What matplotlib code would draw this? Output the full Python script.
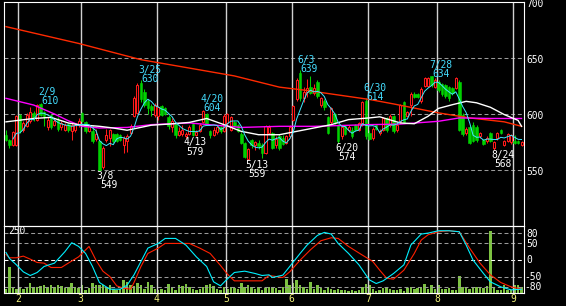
import numpy as np
import pandas as pd
import matplotlib
matplotlib.use("Agg")
import matplotlib.pyplot as plt

# ---------------- data ----------------
holidays = ["2022-02-11", "2022-02-23", "2022-03-21", "2022-04-29",
            "2022-05-03", "2022-05-04", "2022-05-05", "2022-07-18", "2022-08-11"]
dates = pd.bdate_range("2022-01-26", "2022-09-05")
dates = dates[~dates.isin(pd.to_datetime(holidays))]

opens = [581, 577, 572, 572, 599, 586, 589, 594, 601, 595,
         609, 602, 588, 599, 590, 595, 588, 586, 591, 585,
         586, 590, 601, 593, 585, 585, 578, 576, 553, 577,
         579, 582, 582, 581, 572, 576, 583, 598, 601, 628,
         620, 612, 607, 599, 598, 607, 605, 597, 588, 591,
         581, 582, 580, 582, 591, 581, 585, 593, 600, 585,
         581, 584, 588, 585, 592, 586, 593, 590, 582, 574,
         560, 577, 572, 574, 572, 565, 583, 583, 572, 580,
         579, 574, 580, 595, 613, 637, 614, 620, 624, 619,
         629, 608, 612, 597, 593, 600, 590, 580, 589, 586,
         586, 590, 586, 590, 612, 583, 579, 590, 583, 586,
         596, 590, 598, 586, 593, 611, 598, 608, 618, 618,
         612, 625, 625, 634, 624, 629, 627, 626, 624, 623,
         623, 629, 599, 583, 588, 590, 588, 580, 577, 576,
         583, 570, 579, 586, 572, 576, 575, 576, 576, 572]
highs = [586, 578, 585, 599, 600, 594, 601, 606, 603, 609,
         610, 603, 597, 600, 596, 597, 594, 592, 592, 592,
         592, 596, 602, 594, 590, 590, 587, 577, 571, 587,
         587, 583, 583, 582, 580, 582, 591, 616, 628, 630,
         622, 613, 609, 610, 607, 608, 606, 599, 596, 592,
         588, 590, 584, 590, 592, 586, 592, 604, 601, 586,
         588, 589, 589, 600, 601, 598, 594, 591, 584, 575,
         570, 578, 576, 577, 574, 590, 590, 584, 580, 582,
         581, 581, 590, 608, 632, 639, 624, 631, 634, 627,
         630, 615, 613, 598, 606, 601, 591, 590, 590, 590,
         588, 591, 593, 612, 614, 586, 588, 591, 587, 597,
         597, 600, 599, 592, 609, 612, 603, 620, 620, 619,
         624, 633, 633, 634, 632, 630, 628, 627, 625, 624,
         633, 630, 601, 588, 589, 593, 590, 584, 578, 580,
         584, 576, 584, 587, 577, 583, 582, 581, 577, 576]
lows = [576, 570, 571, 571, 583, 584, 588, 592, 594, 594,
        598, 589, 586, 587, 589, 585, 586, 585, 584, 577,
        584, 588, 593, 583, 584, 574, 576, 549, 551, 575,
        571, 574, 575, 576, 565, 566, 582, 597, 600, 611,
        606, 600, 598, 597, 595, 598, 599, 587, 584, 579,
        580, 580, 579, 581, 580, 580, 584, 592, 590, 579,
        580, 582, 583, 584, 589, 585, 588, 584, 573, 561,
        559, 570, 568, 569, 561, 564, 582, 569, 570, 568,
        572, 573, 579, 594, 612, 612, 611, 615, 618, 617,
        614, 606, 604, 582, 591, 591, 574, 578, 581, 584,
        579, 585, 585, 589, 578, 577, 577, 586, 581, 585,
        584, 588, 583, 584, 592, 592, 597, 598, 614, 614,
        610, 624, 624, 624, 623, 620, 616, 614, 612, 617,
        622, 585, 580, 581, 573, 575, 575, 579, 572, 574,
        575, 568, 577, 582, 571, 575, 573, 573, 573, 571]
closes = [577, 572, 584, 598, 585, 592, 599, 602, 596, 608,
          599, 598, 595, 588, 594, 587, 592, 590, 586, 590,
          590, 594, 594, 585, 589, 576, 582, 550, 570, 581,
          586, 576, 576, 577, 579, 580, 589, 614, 626, 613,
          608, 605, 604, 608, 606, 599, 600, 589, 594, 581,
          585, 586, 582, 588, 581, 584, 590, 603, 591, 581,
          586, 588, 585, 598, 600, 597, 589, 585, 574, 562,
          569, 572, 575, 571, 565, 589, 588, 570, 578, 570,
          573, 580, 588, 607, 630, 614, 620, 623, 619, 623,
          616, 614, 606, 583, 605, 593, 576, 588, 582, 588,
          580, 586, 592, 611, 580, 578, 587, 587, 585, 596,
          586, 598, 585, 590, 608, 593, 602, 618, 615, 615,
          622, 632, 632, 626, 630, 621, 618, 616, 614, 619,
          632, 586, 582, 587, 574, 576, 577, 583, 573, 579,
          576, 575, 583, 583, 576, 582, 581, 574, 574, 575]
volume = [15, 105, 24, 17, 20, 17, 20, 40, 20, 24,
          27, 32, 24, 32, 24, 32, 28, 21, 24, 42,
          24, 20, 34, 13, 20, 42, 32, 34, 32, 20,
          32, 17, 13, 17, 52, 44, 34, 28, 40, 32,
          17, 46, 32, 17, 12, 17, 12, 38, 24, 13,
          34, 28, 38, 24, 17, 12, 17, 24, 32, 38,
          28, 17, 13, 24, 17, 24, 20, 17, 42, 24,
          32, 24, 15, 24, 12, 20, 24, 24, 20, 13,
          24, 58, 34, 42, 54, 34, 24, 15, 44, 17,
          32, 20, 13, 24, 17, 12, 17, 13, 12, 9,
          12, 8, 12, 24, 38, 34, 17, 8, 13, 21,
          24, 17, 13, 13, 17, 9, 20, 24, 15, 20,
          24, 36, 17, 32, 17, 32, 17, 17, 21, 13,
          13, 68, 24, 20, 15, 20, 24, 24, 20, 28,
          250, 24, 13, 13, 32, 12, 12, 34, 34, 24]

# long / mid / 25-day moving averages (day index, value)
ma_long_day = [0, 21, 39, 53, 66, 79, 87, 105, 112, 125, 134, 144, 149]
ma_long_val = [678, 663, 648.5, 641, 634, 624, 621, 613, 609, 601, 596.5, 593, 589]
ma_mid_day = [0, 8, 14, 18, 22, 27, 35, 42, 53, 68, 79, 89, 105, 114, 125, 131, 140, 149]
ma_mid_val = [614, 608, 600, 594, 589, 587.5, 588, 590.5, 592, 588, 589, 589, 590.5,
              591, 593.5, 596.5, 596, 596]
ma25_day = [0, 8, 13, 18, 21, 27, 31, 35, 42, 47, 53, 58, 63, 68, 73, 79, 84, 89, 94,
            99, 105, 108, 114, 118, 122, 125, 129, 133, 136, 140, 144, 148, 149]
ma25_val = [593, 596, 597, 592, 590.5, 589, 587.5, 585.5, 590, 591, 592.5, 596, 590.5,
            584.5, 581.5, 581.5, 584.5, 587.5, 590.5, 595, 596.5, 597.5, 592, 591.3,
            598, 605, 608.3, 611.3, 610, 606, 599.5, 594.3, 589]

# oscillator (RCI-like) lines in lower panel
rci_s_day = [0, 1, 3, 5, 7, 9, 11, 14, 17, 19, 21, 23, 25, 27, 30, 33, 35, 37, 39, 41,
             44, 46, 49, 52, 55, 58, 60, 62, 64, 66, 69, 72, 74, 76, 77, 80, 82, 85, 87,
             90, 92, 94, 96, 99, 102, 105, 107, 109, 112, 115, 117, 120, 122, 125, 128,
             131, 133, 135, 138, 140, 143, 146, 149]
rci_s_val = [22, 4, -15, -36, -47, -38, -20, -10, 24, 51, 40, 19, -20, -68, -88, -88, -76,
             -45, -5, 35, 49, 64, 64, 44, 9, -20, -66, -78, -57, -38, -34, -41, -47, -45,
             -53, -46, -20, 19, 44, 73, 82, 77, 49, 19, -15, -60, -71, -63, -41, -15, 44,
             77, 80, 87, 87, 84, 44, -1, -41, -66, -81, -90, -88]
rci_l_day = [0, 1, 3, 5, 7, 9, 11, 13, 16, 18, 21, 24, 26, 28, 30, 32, 34, 36, 37, 39,
             41, 44, 46, 50, 53, 56, 59, 62, 64, 66, 74, 76, 80, 82, 85, 88, 91, 94, 96,
             99, 103, 106, 108, 110, 112, 115, 118, 120, 122, 125, 128, 131, 134, 137,
             140, 143, 146, 149]
rci_l_val = [16, 6, 6, 11, 2, -8, -10, -23, -23, -10, 9, 40, -1, -34, -50, -78, -85, -88,
             -68, -20, 19, 35, 49, 49, 49, 35, 19, -17, -43, -63, -63, -47, -53, -36, -1,
             30, 57, 66, 64, 40, 14, -5, -31, -55, -58, -31, 19, 59, 75, 84, 87, 84, 35,
             -10, -45, -68, -81, -88]

# marked highs / lows
mark_day = [10, 27, 39, 52, 57, 70, 85, 96, 104, 123, 141]
mark_price = [610, 549, 630, 579, 604, 559, 639, 574, 614, 634, 568]
mark_high = [True, False, True, False, True, False, True, False, True, True, False]

price_ticks = [700, 650, 600, 550]
osc_ticks = [80, 50, 0, -50, -80]
vol_label = 250

# ---------------- style ----------------
RED = "#ff1a1a"
GREEN = "#00d000"
LONG_RED = "#ff2a00"
MAGENTA = "#ff00ff"
CYAN = "#40e8ff"
LBL_CYAN = "#44ddff"
VOL = "#7dc242"
GRID = "#9a9a9a"
VLINE = "#d0d0d0"
YELLOW = "#f2f27a"
FONT = dict(family="DejaVu Sans Mono", fontsize=6.9)
DASH = (0, (3.8, 2.6))

W, H = 566, 306
fig = plt.figure(figsize=(W / 100, H / 100), dpi=100, facecolor="black")
ax = fig.add_axes([4 / W, (H - 226) / H, 520 / W, 224 / H])
ax2 = fig.add_axes([4 / W, (H - 293) / H, 520 / W, 67 / H], sharex=ax)
axv = ax2.twinx()
axv.set_zorder(0)
ax2.set_zorder(1)
ax2.patch.set_visible(False)
axv.patch.set_facecolor("black")
ax.set_facecolor("black")

n = len(closes)
idx = np.arange(n)
o = np.array(opens, float)
h = np.array(highs, float)
l = np.array(lows, float)
c = np.array(closes, float)
up = c >= o

ax.set_xlim(-0.578, 149.71)
ax.set_ylim(500, 700)
ax2.set_ylim(-99.4, 101.2)
axv.set_ylim(0, 268)

# grid
month_start = [i for i in range(1, n) if dates[i].month != dates[i - 1].month]
for m in month_start:
    for a in (ax, ax2):
        ln = a.axvline(m - 0.43, color=VLINE, lw=1.0, zorder=1.5)
        ln.set_snap(True)
    ax2.annotate(str(dates[m].month), xy=(m - 0.43, 0), xycoords=("data", "axes fraction"),
                 xytext=(0, -9), textcoords="offset pixels", ha="center", va="baseline",
                 color=YELLOW, annotation_clip=False, **FONT)
for v in price_ticks[1:]:
    ax.axhline(v, color=GRID, lw=0.75, ls=DASH, zorder=1)
for v in osc_ticks:
    ax2.axhline(v, color=("white" if v == 0 else GRID), lw=0.75, ls=DASH, zorder=1)

# candles
ax.vlines(idx[up], l[up], h[up], color=RED, lw=0.75, zorder=3)
ax.vlines(idx[~up], l[~up], h[~up], color=GREEN, lw=0.75, zorder=3)
bb = np.minimum(o, c)
bh = np.abs(c - o)
ax.bar(idx[up], bh[up], bottom=bb[up], width=0.58, facecolor="black",
       edgecolor=RED, linewidth=0.75, zorder=4)
ax.bar(idx[~up], bh[~up], bottom=bb[~up], width=0.72, facecolor=GREEN,
       edgecolor=GREEN, linewidth=0.4, zorder=4)

# moving averages
ax.plot(ma_long_day, ma_long_val, color=LONG_RED, lw=1.0, zorder=5)
ax.plot(ma_mid_day, ma_mid_val, color=MAGENTA, lw=1.0, zorder=5)
ax.plot(ma25_day, ma25_val, color="white", lw=1.0, zorder=5)
ma5 = pd.Series(c).rolling(5, min_periods=3).mean()
ax.plot(idx, ma5, color=CYAN, lw=0.7, zorder=6)

# marks
for d, p, hi in zip(mark_day, mark_price, mark_high):
    lab = f"{dates[d].month}/{dates[d].day}"
    if hi:
        ax.annotate(lab, (d, p), xytext=(-2.6, 7.8), textcoords="offset pixels",
                    ha="left", va="baseline", color=LBL_CYAN, zorder=7, **FONT)
        ax.annotate(str(p), (d, p), xytext=(0.4, -1.5), textcoords="offset pixels",
                    ha="left", va="baseline", color=LBL_CYAN, zorder=7, **FONT)
    else:
        ax.annotate(lab, (d, p), xytext=(-2.6, -7.7), textcoords="offset pixels",
                    ha="left", va="baseline", color="white", zorder=7, **FONT)
        ax.annotate(str(p), (d, p), xytext=(0.4, -17), textcoords="offset pixels",
                    ha="left", va="baseline", color="white", zorder=7, **FONT)

# right price labels
for v in price_ticks:
    ax.annotate(str(v), xy=(1, v), xycoords=("axes fraction", "data"), xytext=(2, -5.5),
                textcoords="offset pixels", ha="left", va="baseline", color="white",
                annotation_clip=False, **FONT)
for v in osc_ticks:
    if v >= 0:
        ax2.annotate(str(v), xy=(1, v), xycoords=("axes fraction", "data"), xytext=(2, -3.5),
                     textcoords="offset pixels", ha="left", va="baseline", color="white",
                     annotation_clip=False, **FONT)
    else:
        ax2.annotate(str(v), xy=(1, v), xycoords=("axes fraction", "data"), xytext=(17.2, -3.5),
                     textcoords="offset pixels", ha="right", va="baseline", color="white",
                     annotation_clip=False, zorder=9, **FONT)
ax2.annotate(str(vol_label), xy=(0, 1), xycoords="axes fraction", xytext=(4, -8.3),
             textcoords="offset pixels", ha="left", va="baseline", color="white",
             zorder=8, **FONT)

# volume and oscillator
axv.bar(idx, volume, width=0.72, color=VOL, linewidth=0, zorder=2)
ax2.plot(rci_l_day, rci_l_val, color="#ff2000", lw=0.8, zorder=4)
ax2.plot(rci_s_day, rci_s_val, color="#00f0ff", lw=0.8, zorder=5)

for a in (ax, ax2, axv):
    a.set_xticks([])
    a.set_yticks([])
for a in (ax, ax2):
    for s in a.spines.values():
        s.set_color("white")
        s.set_linewidth(0.8)
        s.set_zorder(2)
for s in axv.spines.values():
    s.set_visible(False)

fig.savefig("out.png", dpi=100, facecolor="black")
